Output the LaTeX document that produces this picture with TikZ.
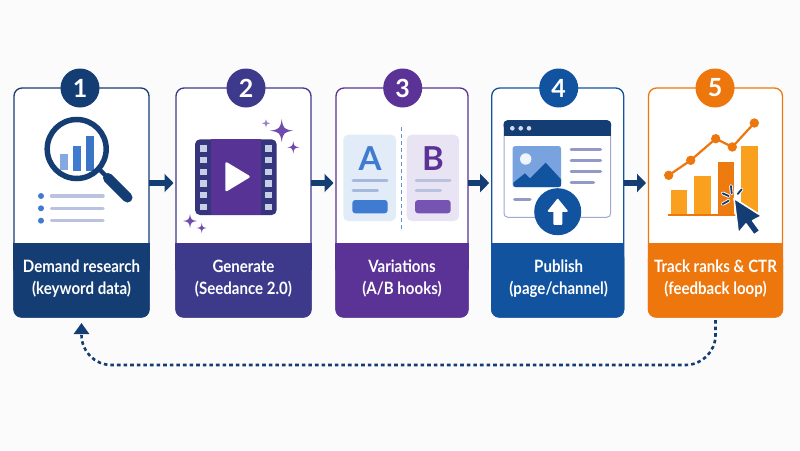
\documentclass[tikz,border=0pt]{standalone}
\usepackage{fontspec}
\setmainfont{Lato}
\newfontfamily\capfont[FakeStretch=0.885]{Lato}
\usetikzlibrary{arrows.meta}
\definecolor{cnavy}{HTML}{143D73}
\definecolor{cindigo}{HTML}{3D3A8C}
\definecolor{cpurple}{HTML}{5B3296}
\definecolor{cblue}{HTML}{12539F}
\definecolor{corange}{HTML}{ED770D}
\definecolor{cbg}{HTML}{FBFBFB}
\definecolor{cmid}{HTML}{3F7BD0}
\definecolor{cline}{HTML}{B9C3E0}
\definecolor{cspark}{HTML}{6F4BAE}
\definecolor{camber}{HTML}{F9A01F}
\newcommand{\sparkle}[4]{\fill[#4,shift={(#1,#2)},scale=#3] (0,-1) .. controls (.12,-.2) and (.2,-.12) .. (1,0) .. controls (.2,.12) and (.12,.2) .. (0,1) .. controls (-.12,.2) and (-.2,.12) .. (-1,0) .. controls (-.2,-.12) and (-.12,-.2) .. (0,-1) -- cycle;}
\newcommand{\bandfill}[3]{\fill[#1,rounded corners=8pt] (#2,250) rectangle (#3,317.6);\fill[#1] (#2,243) rectangle (#3,270);}
\tikzset{
  x=1pt,y=-1pt,
  cardbox/.style={draw=#1,fill=white,line width=1.3pt,rounded corners=8pt,minimum height=229pt,inner sep=0pt,outer sep=0pt},
  badge/.style={circle,fill=#1,draw=none,minimum size=39pt,inner sep=0pt,text=white,font=\fontsize{25}{25}\selectfont\bfseries},
  caption/.style={text=white,align=center,font=\capfont\fontsize{17}{22}\selectfont\bfseries,inner sep=0pt},
  flow/.style={cnavy,line width=5.5pt,-{Triangle[length=9pt,width=18pt]},shorten >=2.5pt},
  backlink/.style={cnavy,line width=2.6pt,dash pattern=on 3.6pt off 3pt,rounded corners=30pt,-{Triangle[length=11pt,width=15pt]},shorten <=3pt,shorten >=6pt},
  rule/.style={line width=#1,line cap=round},
  rule/.default=3.5pt
}
\begin{document}
\begin{tikzpicture}
\useasboundingbox (0,0) rectangle (800,450);
\fill[cbg] (0,0) rectangle (800,450);
\coordinate (rowy) at (0,183);
% cards
\node[cardbox=cnavy,minimum width=135pt] (card1) at (81.5,202.5) {};
\node[cardbox=cindigo,minimum width=135pt] (card2) at (243.5,202.5) {};
\node[cardbox=cpurple,minimum width=132pt] (card3) at (402,202.5) {};
\node[cardbox=cblue,minimum width=132pt] (card4) at (557.7,202.5) {};
\node[cardbox=corange,minimum width=134pt] (card5) at (715.5,202.5) {};
\bandfill{cnavy}{13.4}{149.6}
\bandfill{cindigo}{175.4}{311.6}
\bandfill{cpurple}{335.4}{468.6}
\bandfill{cblue}{491.1}{624.3}
\bandfill{corange}{647.9}{783.1}
% badges
\node[badge=cnavy] (badge1) at (80,88) {1};
\node[badge=cindigo] (badge2) at (246,88) {2};
\node[badge=cpurple] (badge3) at (402.7,88) {3};
\node[badge=cblue] (badge4) at (558.7,88) {4};
\node[badge=corange] (badge5) at (715,88) {5};
% captions
\node[caption] (cap1) at (81.5,279) {Demand research\\(keyword data)};
\node[caption] (cap2) at (243.5,279) {Generate\\(Seedance 2.0)};
\node[caption] (cap3) at (402,279) {Variations\\(A/B hooks)};
\node[caption] (cap4) at (558.7,279) {Publish\\(page/channel)};
\node[caption] (cap5) at (715.5,279) {Track ranks \& CTR\\(feedback loop)};
% connectors
\draw[flow] (card1.east |- rowy) -- (card2.west |- rowy);
\draw[flow] (card2.east |- rowy) -- (card3.west |- rowy);
\draw[flow] (card3.east |- rowy) -- (card4.west |- rowy);
\draw[flow] (card4.east |- rowy) -- (card5.west |- rowy);
\draw[backlink] (card5.south) -- ++(0,48) -| (card1.south);
% icon 1
\fill[cmid!65!white] (60,154) rectangle (68.3,170);
\fill[cmid] (72.7,145.7) rectangle (81.3,170.7);
\fill[cmid!95!black] (85.7,136) rectangle (94,170.7);
\draw[cnavy,line width=5.5pt] (76.7,149) circle (29.5);
\draw[cnavy,line width=4.5pt] (100,170) -- (108,178);
\draw[cnavy,line width=10pt,line cap=round] (108,178) -- (127.5,197.5);
\foreach \yy in {196,208.3,220.7}{
  \fill[cmid] (41,\yy) circle (3);
  \draw[cline,rule] (51.5,\yy) -- (103,\yy);
}
% icon 2
\fill[cindigo!90!black,rounded corners=5pt] (195,139.3) rectangle (276.7,215);
\fill[cpurple!85!cindigo] (211,139.3) rectangle (261,215);
\foreach \yy in {148.3,160,171.7,183.3,195,206.7}{
  \fill[cline!80!white] (200,\yy-3.2) rectangle (206.7,\yy+3.2);
  \fill[cline!80!white] (265,\yy-3.2) rectangle (271.7,\yy+3.2);
}
\fill[white,draw=white,line width=2.5pt,line join=round] (226.5,163.5) -- (248.5,176.7) -- (226.5,190) -- cycle;
\sparkle{281.7}{130.7}{11.5}{cspark}
\sparkle{293.3}{147.3}{6}{cspark}
\sparkle{266}{123.3}{4}{cspark!70!white}
\sparkle{190}{221}{7}{cspark}
\sparkle{201.7}{228}{5}{cspark}
% icon 3
\fill[cmid!15!white,rounded corners=5pt] (343.3,134.7) rectangle (396,221);
\fill[cspark!15!white,rounded corners=5pt] (406.7,134.7) rectangle (459,221);
\draw[cmid!70!cline,line width=1.2pt,dash pattern=on 4pt off 3pt] (401.3,127) -- (401.3,230);
\node[text=cmid,font=\fontsize{33}{33}\selectfont\bfseries,inner sep=0pt] (letterA) at (370,158.3) {A};
\node[text=cpurple,font=\fontsize{33}{33}\selectfont\bfseries,inner sep=0pt] (letterB) at (433,158.3) {B};
\draw[cline!85!cmid,rule=3pt] (353,180.7) -- (387,180.7);
\draw[cline!85!cmid,rule=3pt] (353,190) -- (377.5,190);
\draw[cline,rule=3pt] (416,180.7) -- (450,180.7);
\draw[cline,rule=3pt] (416,190) -- (440.5,190);
\fill[cmid,rounded corners=3pt] (352.3,200) rectangle (387.7,213.3);
\fill[cspark!95!white,rounded corners=3pt] (415,200) rectangle (450.7,213.3);
% icon 4
\draw[cline!80!cindigo,fill=white,line width=1pt,rounded corners=4pt] (504,120.7) rectangle (610.7,217.3);
\fill[cnavy,rounded corners=4pt] (503.5,120.2) rectangle (611.2,130);
\fill[cnavy] (503.5,126) rectangle (611.2,136);
\foreach \xx in {512.3,520.7,529}{\fill[cline!60!white] (\xx,128.3) circle (2.3);}
\fill[cmid!70!white,rounded corners=2.5pt] (512.7,146) rectangle (561,187);
\fill[white!92!cmid] (525.7,159) circle (5.7);
\fill[cblue] (513.3,182.7) -- (525,173.3) -- (530,178.3) -- (545.7,162.7) -- (561,179.3) -- (561,184.5) .. controls (561,186.5) .. (558.5,187) -- (515.5,187) .. controls (513.5,186.5) .. (513.3,184.5) -- cycle;
\foreach \yy in {149,160,171}{\draw[cline!70!cindigo,rule=3pt] (571,\yy) -- (600.5,\yy);}
\draw[cline!70!cindigo,rule=3pt] (571,182.3) -- (593.5,182.3);
\draw[cline!70!cindigo,rule=3pt] (514.5,199.3) -- (530,199.3);
\fill[cblue] (557.7,211.7) circle (23.5);
\fill[white,draw=white,line width=1.5pt,line join=round] (554,224) -- (554,211) -- (548.5,211) -- (557.7,199.5) -- (567,211) -- (561.5,211) -- (561.5,224) -- cycle;
% icon 5
\fill[camber] (670.7,190) rectangle (687,215);
\fill[camber] (694,175.7) rectangle (710.7,215);
\fill[corange!90!camber] (717.7,161.7) rectangle (734.3,215);
\fill[camber] (741,145.7) rectangle (757.7,215);
\draw[corange,line width=2pt] (667.7,215) -- (745,215);
\draw[corange,line width=2.2pt] (668.7,175.3) -- (690.7,160.3) -- (715.7,138.7) -- (732.3,147) -- (754.3,123);
\foreach \xx/\yy in {668.7/175.3,690.7/160.3,715.7/138.7,732.3/147,754.3/123}{\fill[corange] (\xx,\yy) circle (4.7);}
\draw[cnavy,fill=cnavy,draw=white,line width=1.6pt,line join=round] (734,198.3) -- (761.7,216) -- (752.7,220.7) -- (760,230.7) -- (754,235) -- (746,224) -- (738.3,233.3) -- cycle;
\foreach \ax/\ay/\bx/\by in {722.7/193.3/728.7/196,722.7/204/728.7/200.7,731/186/731.7/193.3,741.7/189.3/737.7/194}{
  \draw[white,line width=3.6pt,line cap=round] (\ax,\ay) -- (\bx,\by);
  \draw[cnavy,line width=1.8pt,line cap=round] (\ax,\ay) -- (\bx,\by);
}
\end{tikzpicture}
\end{document}
